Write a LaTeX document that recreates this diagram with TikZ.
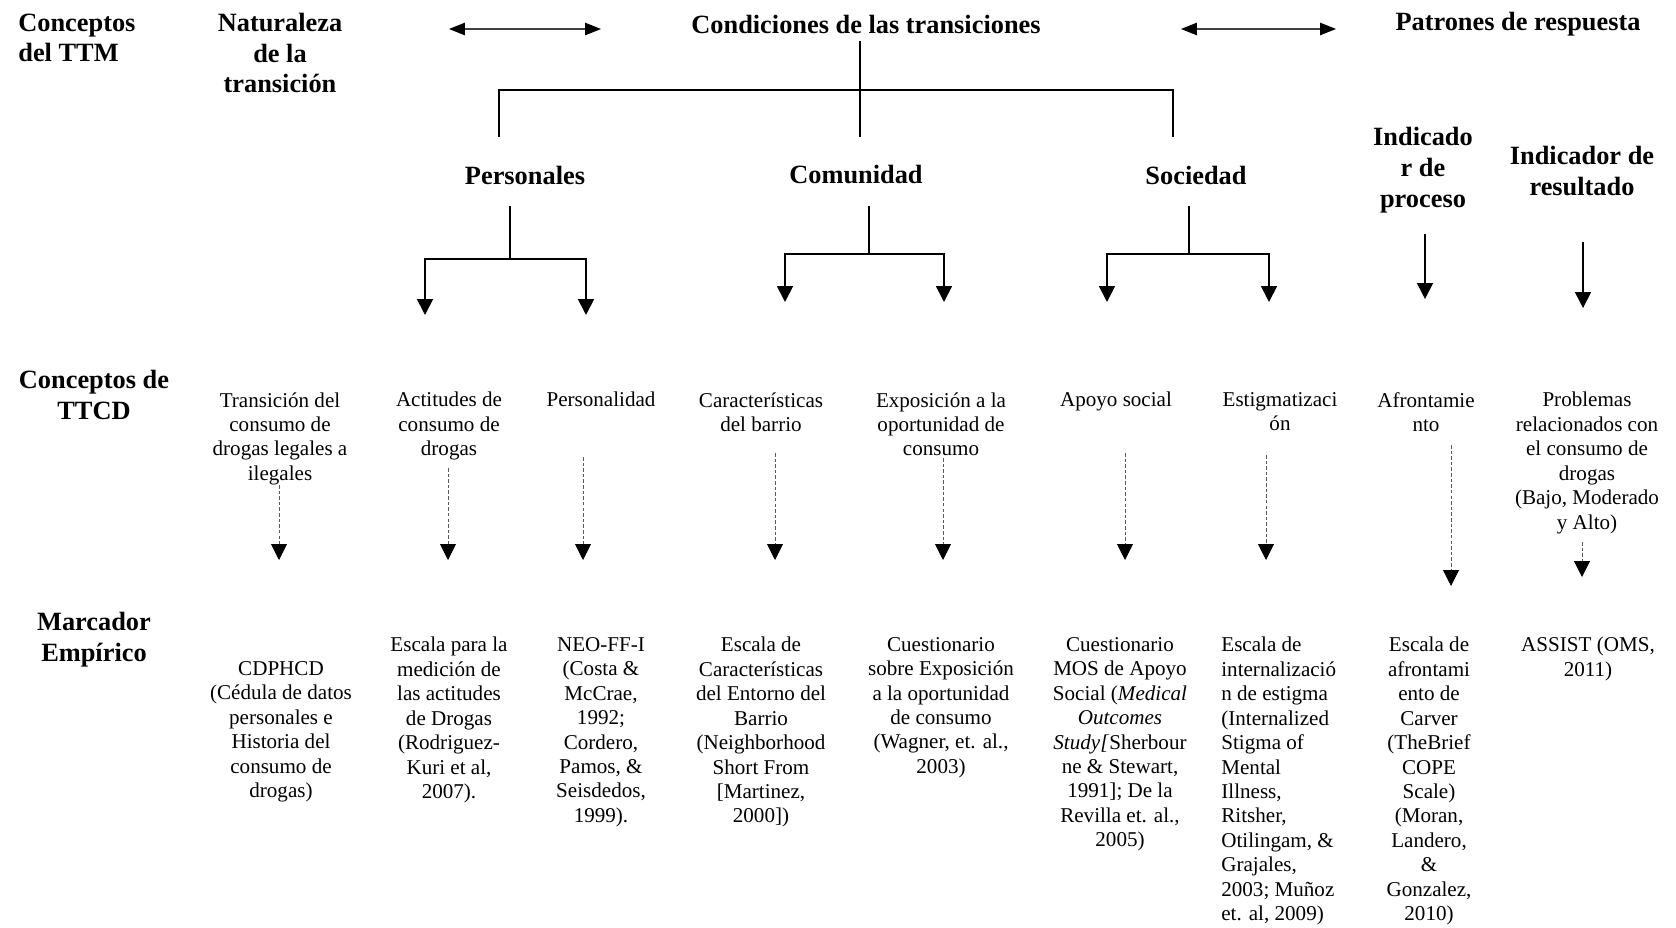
\documentclass[tikz,border=0pt]{standalone}
\usepackage{fontspec}
\setmainfont{Liberation Serif}
\usetikzlibrary{arrows.meta}

\tikzset{
  titulo/.style={font=\fontsize{15}{17.5}\selectfont\bfseries, align=center, inner sep=0pt},
  texto/.style={font=\fontsize{12}{13.9}\selectfont, align=center, inner sep=0pt, anchor=north},
  rama/.style={line width=1pt},
  tallo/.style={line width=0.6pt},
  bajada/.style={line width=1pt, {Triangle[width=9pt,length=9pt]}-{Triangle[width=9pt,length=9pt]}},
  flecha/.style={line width=1pt, -{Triangle[width=9pt,length=9pt]}},
  punteada/.style={gray!70!black, line width=0.5pt, dash pattern=on 2pt off 1.2pt,
    -{Triangle[width=9pt,length=9pt,color=black]}},
  doble/.style={gray!50!black, line width=0.6pt,
    {Triangle[width=7pt,length=9pt,color=black]}-{Triangle[width=7pt,length=9pt,color=black]}}
}

\begin{document}
\begin{tikzpicture}[x=0.02cm, y=-0.02cm]
\useasboundingbox (0,0) rectangle (1676,928);

% encabezados del TTM
\node[titulo, align=left, anchor=west] (ttm) at (18,38) {Conceptos\\del TTM};
\node[titulo] (nat) at (280,53) {Naturaleza\\de la\\transición};
\node[titulo] (cond) at (866,24) {Condiciones de las transiciones};
\node[titulo] (pat) at (1518,24) {Patrones de respuesta};
\coordinate (a1) at (449,29);
\coordinate (a2) at (601,29);
\coordinate (a3) at (1181,29);
\coordinate (a4) at (1336,29);
\draw[doble] (a1) -- (a2);
\draw[doble] (a3) -- (a4);

% condiciones
\node[titulo] (pers) at (525,175) {Personales};
\node[titulo] (com) at (856,175) {Comunidad};
\node[titulo] (soc) at (1196,175) {Sociedad};
\node[titulo] (proc) at (1423,170) {Indicado\\r de\\proceso};
\node[titulo] (res) at (1582,171) {Indicador de\\resultado};

\coordinate (r0) at (860,41);
\coordinate (r1) at (499,137);
\coordinate (r2) at (1173,137);
\draw[tallo] (r0) -- (r0 |- r1);
\draw[rama] (r1) |- (r0 |- 0,90) -| (r2);

\foreach \x/\a/\b/\y/\t in {510/425/586/259/315, 869/785/944/254/302, 1189/1107/1269/254/302} {
  \draw[tallo] (\x,206) -- (\x,\y);
  \draw[bajada] (\a,\t) |- (\x,\y) -| (\b,\t);
}
\draw[flecha] (1425,234) -- (1425,299);
\draw[flecha] (1583,242) -- (1583,308);

% conceptos de TTCD
\node[titulo] (ttcd) at (94,395) {Conceptos de\\TTCD};
\node[texto] (c1) at (280,392) {Transición del\\consumo de\\drogas legales a\\ilegales};
\node[texto] (c2) at (449,392) {Actitudes de\\consumo de\\drogas};
\node[texto] (c3) at (601,392) {Personalidad};
\node[texto] (c4) at (761,392) {Características\\del barrio};
\node[texto] (c5) at (941,392) {Exposición a la\\oportunidad de\\consumo};
\node[texto] (c6) at (1116,392) {Apoyo social};
\node[texto] (c7) at (1280,392) {Estigmatizaci\\ón};
\node[texto] (c8) at (1426,392) {Afrontamie\\nto};
\node[texto] (c9) at (1587,392) {Problemas\\relacionados con\\el consumo de\\drogas\\(Bajo, Moderado\\y Alto)};

\foreach \x/\a/\b in {279/485/560, 448/468/560, 583/457/560, 775/453/560, 943/458/560,
  1125/453/560, 1266/455/560, 1451/445/586, 1582/542/577} {
  \draw[punteada] (\x,\a) -- (\x,\b);
}

% marcadores empiricos
\node[titulo] (marc) at (94,640) {Marcador\\Empírico};
\node[texto] (i1) at (281,661) {CDPHCD\\(Cédula de datos\\personales e\\Historia del\\consumo de\\drogas)};
\node[texto] (i2) at (449,637) {Escala para la\\medición de\\las actitudes\\de Drogas\\(Rodriguez-\\Kuri et al,\\2007).};
\node[texto] (i3) at (601,637) {NEO-FF-I\\(Costa \&\\McCrae,\\1992;\\Cordero,\\Pamos, \&\\Seisdedos,\\1999).};
\node[texto] (i4) at (761,637) {Escala de\\Características\\del Entorno del\\Barrio\\(Neighborhood\\Short From\\{[}Martinez,\\2000{]})};
\node[texto] (i5) at (941,637) {Cuestionario\\sobre Exposición\\a la oportunidad\\de consumo\\(Wagner, et. al.,\\2003)};
\node[texto] (i6) at (1120,637) {Cuestionario\\MOS de Apoyo\\Social (\textit{Medical}\\\textit{Outcomes}\\\textit{Study[}Sherbour\\ne \& Stewart,\\1991{]}; De la\\Revilla et. al.,\\2005)};
\node[texto, anchor=north west, align=left] (i7) at (1221,637) {Escala de\\internalizació\\n de estigma\\(Internalized\\Stigma of\\Mental\\Illness,\\Ritsher,\\Otilingam, \&\\Grajales,\\2003; Muñoz\\et. al, 2009)};
\node[texto] (i8) at (1429,637) {Escala de\\afrontami\\ento de\\Carver\\(TheBrief\\COPE\\Scale)\\(Moran,\\Landero,\\\&\\Gonzalez,\\2010)};
\node[texto] (i9) at (1588,637) {ASSIST (OMS,\\2011)};
\end{tikzpicture}
\end{document}
